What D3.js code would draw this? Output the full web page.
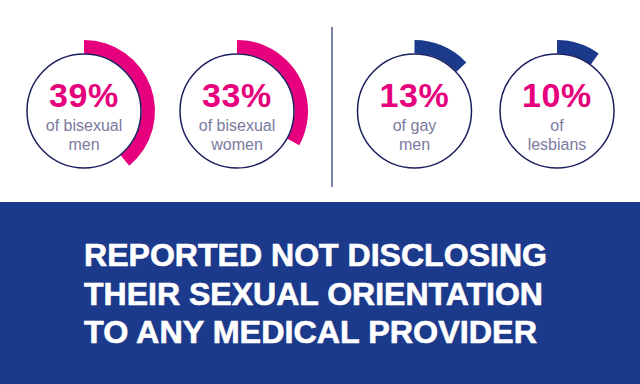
<!DOCTYPE html>
<html>
<head>
<meta charset="utf-8">
<script src="https://cdn.jsdelivr.net/npm/d3@7"></script>
<style>
  html, body { margin: 0; padding: 0; background: #ffffff; }
  svg { display: block; }
</style>
</head>
<body>
<svg id="chart" width="640" height="384"></svg>
<script>
// ---- data ----
const groups = ["bisexual men", "bisexual women", "gay men", "lesbians"];
const percents = [39, 33, 13, 10];
const labelLine1 = ["of bisexual", "of bisexual", "of gay", "of"];
const labelLine2 = ["men", "women", "men", "lesbians"];
const arcKind = ["bi", "bi", "gl", "gl"];
const titleLines = ["REPORTED NOT DISCLOSING", "THEIR SEXUAL ORIENTATION", "TO ANY MEDICAL PROVIDER"];

// ---- layout / styles ----
const W = 640, H = 384;
const centersX = [84, 237, 414.5, 557];
const centerY = 111;
const circleR = 57;
const arcInner = 57.5, arcOuter = 71;
const colorKind = d3.scaleOrdinal().domain(["bi", "gl"]).range(["#e6007e", "#1c3a8b"]);
const pink = "#e6007e";
const navy = "#1c3a8b";

const svg = d3.select("#chart");
svg.append("rect").attr("width", W).attr("height", H).attr("fill", "#fff");

const angle = d3.scaleLinear().domain([0, 100]).range([0, 2 * Math.PI]);
const arcGen = d3.arc().innerRadius(arcInner).outerRadius(arcOuter).startAngle(0);

const g = svg.selectAll("g.item").data(groups).enter().append("g")
  .attr("class", "item")
  .attr("transform", (d, i) => `translate(${centersX[i]},${centerY})`);

g.append("path")
  .attr("d", (d, i) => arcGen({ endAngle: angle(percents[i]) }))
  .attr("fill", (d, i) => colorKind(arcKind[i]));

g.append("circle")
  .attr("r", circleR)
  .attr("fill", "none")
  .attr("stroke", "#1b1f5f")
  .attr("stroke-width", 1.5);

g.append("text")
  .attr("text-anchor", "middle")
  .attr("y", -4)
  .attr("font-family", "Liberation Sans, Arial, sans-serif")
  .attr("font-weight", "bold")
  .attr("font-size", 34)
  .attr("letter-spacing", 0.6)
  .attr("fill", pink)
  .text((d, i) => percents[i] + "%");

g.append("text")
  .attr("text-anchor", "middle")
  .attr("y", 20)
  .attr("font-family", "Liberation Sans, Arial, sans-serif")
  .attr("font-size", 16)
  .attr("fill", "#7a7aa0")
  .text((d, i) => labelLine1[i]);

g.append("text")
  .attr("text-anchor", "middle")
  .attr("y", 38.5)
  .attr("font-family", "Liberation Sans, Arial, sans-serif")
  .attr("font-size", 16)
  .attr("fill", "#7a7aa0")
  .text((d, i) => labelLine2[i]);

// divider
svg.append("line")
  .attr("x1", 332).attr("x2", 332)
  .attr("y1", 27).attr("y2", 187)
  .attr("stroke", "#7b80a8")
  .attr("stroke-width", 2);

// bottom band
svg.append("rect")
  .attr("x", 0).attr("y", 202)
  .attr("width", W).attr("height", H - 202)
  .attr("fill", navy);

const titleWidths = [463, 459, 453];
svg.selectAll("text.title").data(titleLines).enter().append("text")
  .attr("class", "title")
  .attr("x", 84)
  .attr("y", (d, i) => 266 + i * 38.7)
  .attr("font-family", "Liberation Sans, Arial, sans-serif")
  .attr("font-weight", "bold")
  .attr("font-size", 30.5)
  .attr("fill", "#ffffff")
  .attr("stroke", "#ffffff")
  .attr("stroke-width", 0.6)
  .attr("textLength", (d, i) => titleWidths[i])
  .attr("lengthAdjust", "spacingAndGlyphs")
  .text(d => d);
</script>
</body>
</html>
